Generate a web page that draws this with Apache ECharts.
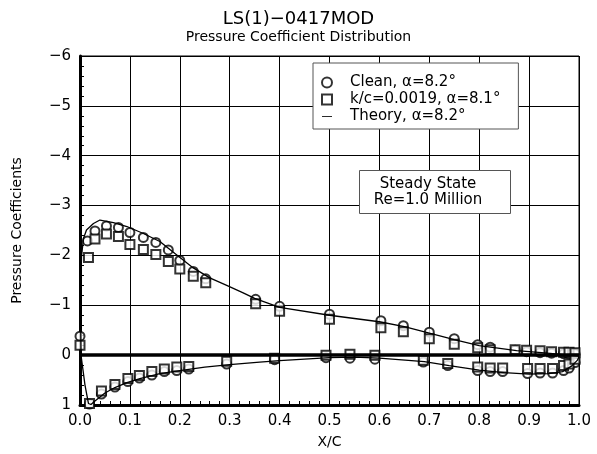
<!DOCTYPE html>
<html>
<head>
<meta charset="utf-8">
<script src="https://cdn.jsdelivr.net/npm/echarts@6/dist/echarts.min.js"></script>
<style>
  html, body { margin: 0; padding: 0; background: #fff; }
  #chart { width: 597px; height: 454px; }
</style>
</head>
<body>
<div id="chart"></div>
<script>
// Clean airfoil, alpha = 8.2 (circles)
const cleanX = [0.0, 0.015, 0.03, 0.053, 0.077, 0.10, 0.127, 0.152, 0.177, 0.20, 0.227, 0.252, 0.352, 0.40, 0.50, 0.603, 0.648, 0.70, 0.75, 0.797, 0.822, 0.872, 0.895, 0.922, 0.945, 0.969, 0.98, 0.992,
  0.019, 0.043, 0.070, 0.096, 0.119, 0.144, 0.169, 0.194, 0.218, 0.294, 0.39, 0.493, 0.541, 0.591, 0.688, 0.737, 0.797, 0.822, 0.847, 0.897, 0.922, 0.947, 0.969, 0.98, 0.992];
const cleanCp = [-0.38, -2.29, -2.49, -2.59, -2.56, -2.46, -2.36, -2.26, -2.11, -1.90, -1.68, -1.53, -1.12, -0.98, -0.82, -0.69, -0.59, -0.46, -0.33, -0.21, -0.16, -0.10, -0.07, -0.05, -0.04, -0.03, -0.02, -0.03,
  0.98, 0.78, 0.64, 0.53, 0.46, 0.40, 0.33, 0.31, 0.28, 0.18, 0.09, 0.05, 0.06, 0.08, 0.14, 0.21, 0.31, 0.33, 0.33, 0.37, 0.36, 0.36, 0.31, 0.26, 0.15];

// k/c = 0.0019, alpha = 8.1 (squares)
const roughX = [0.0, 0.017, 0.03, 0.053, 0.077, 0.10, 0.127, 0.152, 0.177, 0.20, 0.227, 0.252, 0.352, 0.40, 0.50, 0.603, 0.648, 0.70, 0.75, 0.797, 0.822, 0.872, 0.895, 0.922, 0.945, 0.969, 0.98, 0.992,
  0.019, 0.043, 0.070, 0.096, 0.119, 0.144, 0.169, 0.194, 0.218, 0.294, 0.39, 0.493, 0.541, 0.591, 0.688, 0.737, 0.797, 0.822, 0.847, 0.897, 0.922, 0.947, 0.969, 0.98, 0.992];
const roughCp = [-0.20, -1.96, -2.33, -2.43, -2.38, -2.22, -2.12, -2.02, -1.88, -1.73, -1.58, -1.45, -1.03, -0.88, -0.72, -0.55, -0.47, -0.33, -0.22, -0.15, -0.11, -0.11, -0.10, -0.09, -0.07, -0.06, -0.06, -0.05,
  0.97, 0.72, 0.59, 0.47, 0.41, 0.33, 0.28, 0.24, 0.23, 0.12, 0.06, 0.0, -0.02, 0.0, 0.10, 0.17, 0.24, 0.26, 0.26, 0.27, 0.27, 0.27, 0.21, 0.18, 0.08];

// theory, upper TE -> LE -> lower TE
const theoryX = [1.0, 0.97, 0.925, 0.875, 0.8, 0.75, 0.7, 0.65, 0.6, 0.5, 0.4, 0.35, 0.327, 0.294, 0.26, 0.227, 0.194, 0.16, 0.127, 0.094, 0.067, 0.04, 0.027, 0.013, 0.007, 0.003, 0.001, 0.002,
  0.01, 0.017, 0.022, 0.03, 0.05, 0.07, 0.094, 0.12, 0.16, 0.2, 0.25, 0.3, 0.36, 0.4, 0.5, 0.55, 0.6, 0.69, 0.74, 0.8, 0.85, 0.9, 0.94, 0.967, 0.985, 0.997, 1.0];
const theoryCp = [0.02, -0.01, -0.05, -0.09, -0.19, -0.31, -0.44, -0.57, -0.67, -0.80, -0.96, -1.14, -1.25, -1.40, -1.55, -1.75, -2.01, -2.28, -2.44, -2.58, -2.66, -2.71, -2.64, -2.51, -2.34, -1.98, -1.0, 0.0,
  0.6, 0.97, 0.99, 0.92, 0.76, 0.65, 0.55, 0.47, 0.37, 0.31, 0.24, 0.19, 0.14, 0.11, 0.05, 0.04, 0.06, 0.13, 0.21, 0.30, 0.35, 0.38, 0.37, 0.33, 0.22, 0.10, 0.03];

const seriesNames = ['Clean, α=8.2°', 'k/c=0.0019, α=8.1°', 'Theory, α=8.2°'];

const zip = (xs, ys) => xs.map((x, i) => [x, ys[i]]);
const minus = v => (v < 0 ? '\u2212' + Math.abs(v) : String(v));
const font = 'DejaVu Sans';

const chart = echarts.init(document.getElementById('chart'));
chart.setOption({
  animation: false,
  backgroundColor: '#fff',
  textStyle: { fontFamily: font, color: '#000' },
  title: [
    { text: 'LS(1)\u22120417MOD', left: 'center', top: 10, padding: 0,
      textStyle: { fontFamily: font, fontSize: 18, fontWeight: 'normal', color: '#000' } },
    { text: 'Pressure Coefficient Distribution', left: 'center', top: 30, padding: 0,
      textStyle: { fontFamily: font, fontSize: 14, fontWeight: 'normal', color: '#000' } }
  ],
  grid: { left: 80, right: 18, top: 56, bottom: 46, show: true, borderColor: '#000', borderWidth: 1 },
  legend: {
    orient: 'vertical', left: 313, top: 63,
    padding: [11, 18, 4, 8],
    backgroundColor: '#fff', borderColor: '#555', borderWidth: 1, borderRadius: 0,
    itemWidth: 10, itemHeight: 10, itemGap: 0,
    textStyle: { fontFamily: font, fontSize: 15, color: '#000', lineHeight: 17, padding: [0, 0, 0, 13] },
    data: [
      { name: seriesNames[0], icon: 'emptyCircle' },
      { name: seriesNames[1], icon: 'emptyRect' },
      { name: seriesNames[2], icon: 'path://M0,0H24V2H0Z' }
    ]
  },
  xAxis: {
    type: 'value', min: 0, max: 1, interval: 0.1,
    name: 'X/C', nameLocation: 'middle', nameGap: 30,
    nameTextStyle: { fontFamily: font, fontSize: 14, color: '#000' },
    axisLine: { onZero: false, lineStyle: { color: '#000', width: 3 } },
    axisTick: { show: true, inside: true, length: 5, lineStyle: { color: '#000' } },
    minorTick: { show: true, splitNumber: 5, length: 4, lineStyle: { color: '#000' } },
    splitLine: { show: true, lineStyle: { color: '#000', width: 1 } },
    axisLabel: { fontFamily: font, fontSize: 15, color: '#000', margin: 9, formatter: v => v.toFixed(1) }
  },
  yAxis: {
    type: 'value', min: -6, max: 1, interval: 1, inverse: true,
    name: 'Pressure Coefficients', nameLocation: 'middle', nameGap: 56,
    nameTextStyle: { fontFamily: font, fontSize: 14, color: '#000' },
    axisLine: { lineStyle: { color: '#000', width: 3 } },
    axisTick: { show: true, inside: true, length: 5, lineStyle: { color: '#000' } },
    minorTick: { show: true, splitNumber: 5, length: 4, lineStyle: { color: '#000' } },
    splitLine: { show: true, lineStyle: { color: '#000', width: 1 } },
    axisLabel: { fontFamily: font, fontSize: 15, color: '#000', margin: 9, formatter: minus }
  },
  graphic: [
    { type: 'rect', left: 359, top: 170, z: 50,
      shape: { width: 151, height: 43 },
      style: { fill: '#fff', stroke: '#555', lineWidth: 1 } },
    { type: 'text', x: 428, y: 192, z: 51,
      style: { text: 'Steady State\nRe=1.0 Million', fontFamily: font, fontSize: 15, lineHeight: 16,
        fill: '#000', align: 'center', verticalAlign: 'middle' } }
  ],
  series: [
    {
      name: seriesNames[2], type: 'line', data: zip(theoryX, theoryCp),
      showSymbol: false, symbol: 'none', smooth: false,
      lineStyle: { color: '#000', width: 1.3 }, itemStyle: { color: '#000' },
      markLine: {
        silent: true, symbol: 'none', label: { show: false },
        lineStyle: { color: '#000', width: 3.5, type: 'solid' },
        data: [{ yAxis: 0 }]
      }
    },
    {
      name: seriesNames[0], type: 'scatter', data: zip(cleanX, cleanCp),
      symbol: 'emptyCircle', symbolSize: 9,
      itemStyle: { color: '#000', borderColor: '#000', borderWidth: 1.3 }
    },
    {
      name: seriesNames[1], type: 'scatter', data: zip(roughX, roughCp),
      symbol: 'emptyRect', symbolSize: 9,
      itemStyle: { color: '#000', borderColor: '#000', borderWidth: 1.3 }
    }
  ]
});
</script>
</body>
</html>
